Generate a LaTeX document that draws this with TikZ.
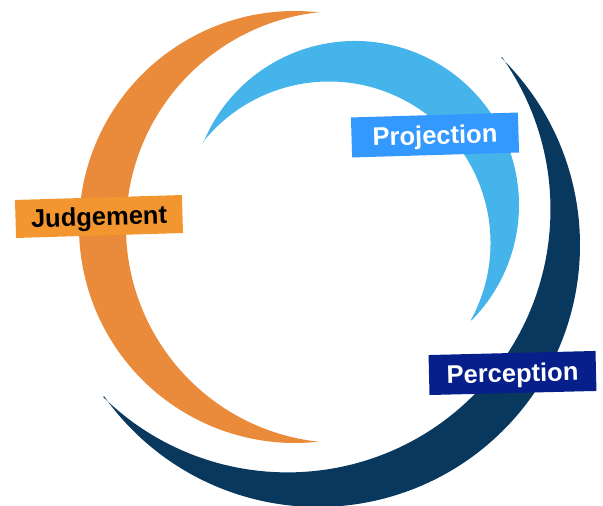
\documentclass[tikz,border=0pt]{standalone}
\usepackage{fontspec}
\setmainfont{Liberation Sans}
\usetikzlibrary{calc}
\definecolor{orangeC}{HTML}{EA8B3C}
\definecolor{orangeBox}{HTML}{F3962F}
\definecolor{blueC}{HTML}{44B4EA}
\definecolor{blueBox}{HTML}{3399FF}
\definecolor{navyC}{HTML}{08385E}
\definecolor{navyBox}{HTML}{061F8A}
\begin{document}
\begin{tikzpicture}[x=1pt,y=1pt,
  lab/.style={inner sep=0pt, minimum width=167pt, minimum height=40pt,
    text height=18.2pt, text depth=0pt,
    font=\bfseries\fontsize{25.5}{30}\selectfont}]
\useasboundingbox (0,0) rectangle (603,506);
% orange crescent (Judgement)
\fill[orangeC] (318.5,493.7) arc[start angle=83.75, end angle=276.25, radius=216]
  arc[start angle=263.75, end angle=96.25, radius=216] -- cycle;
% light blue crescent (Projection)
\fill[blueC] ($(355,301)+(157.5:164)$) arc[start angle=157.5, end angle=-44.75, radius=164]
  -- ($(329,263)+(-28.5:161.5)$) arc[start angle=-28.5, end angle=141.3, radius=161.5] -- cycle;
% navy crescent (Perception)
\fill[navyC] ($(318,261)+(45.6:262)$) arc[start angle=45.6, end angle=-144.7, radius=262]
  -- ($(287.5,296.6)+(-134.5:263)$) arc[start angle=-134.5, end angle=35.4, radius=263] -- cycle;
% labels
\node[lab, fill=blueBox, text=white, rotate=1.7] (proj) at (435,371) {Projection};
\node[lab, fill=navyBox, text=white, rotate=1.4] (perc) at (512.5,133) {Perception};
\node[lab, fill=orangeBox, text=black, rotate=1.7, minimum height=38pt] (judg) at (99,289.5) {Judgement};
\end{tikzpicture}
\end{document}
